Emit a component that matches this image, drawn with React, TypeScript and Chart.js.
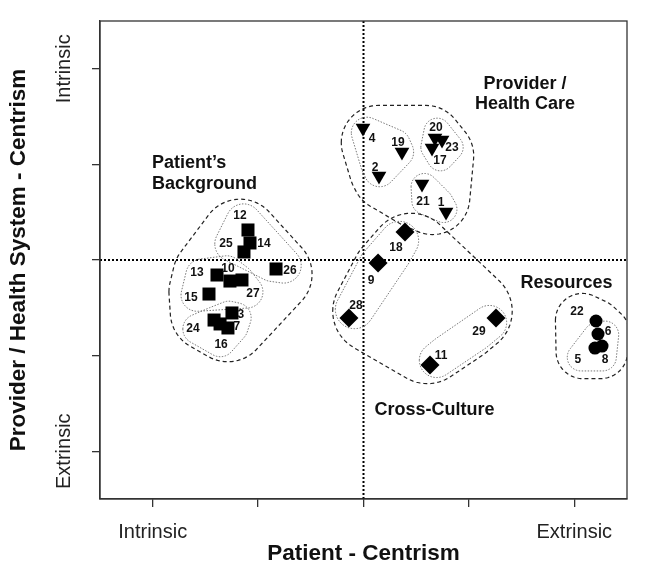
import { useEffect, useRef } from 'react';
import { Chart, registerables } from 'chart.js';

Chart.register(...registerables);

// ---------------- data ----------------
const squareIds = ['12', '14', '25', '26', '13', '10', '27', '15', '3', '24', '16', '7'];
const squareX = [-1.096, -1.077, -1.134, -0.83, -1.39, -1.267, -1.153, -1.466, -1.248, -1.418, -1.361, -1.286];
const squareY = [0.314, 0.178, 0.084, -0.094, -0.157, -0.22, -0.209, -0.356, -0.554, -0.628, -0.669, -0.711];

const triangleIds = ['4', '19', '2', '20', '23', '17', '21', '1'];
const triangleX = [-0.005, 0.365, 0.147, 0.678, 0.745, 0.65, 0.555, 0.783];
const triangleY = [1.381, 1.13, 0.879, 1.276, 1.255, 1.172, 0.795, 0.502];

const diamondIds = ['18', '9', '28', '29', '11'];
const diamondX = [0.394, 0.138, -0.138, 1.257, 0.631];
const diamondY = [0.293, -0.031, -0.607, -0.607, -1.098];

const circleIds = ['22', '6', '5', '8'];
const circleX = [2.206, 2.225, 2.196, 2.263];
const circleY = [-0.638, -0.774, -0.921, -0.9];

const xTickValues = [-2, -1, 0, 1, 2];
const xTickLabels = ['Intrinsic', '', '', '', 'Extrinsic'];
const yTickValues = [-2, -1, 0, 1, 2];
const yTickLabels = ['Extrinsic', '', '', '', 'Intrinsic'];

const xTitle = 'Patient - Centrism';
const yTitle = 'Provider / Health System - Centrism';

const clusterNames = ['Patient\u2019s\nBackground', 'Provider /\nHealth Care', 'Cross-Culture', 'Resources'];
const clusterMembers = [
  ['12', '14', '25', '26', '13', '10', '27', '15', '3', '24', '16', '7'],
  ['4', '19', '2', '20', '23', '17', '21', '1'],
  ['18', '9', '28', '29', '11'],
  ['22', '6', '5', '8'],
];
const subClusterMembers = [
  ['12', '14', '25', '26'],
  ['13', '10', '27', '15'],
  ['3', '24', '16', '7'],
  ['4', '19', '2'],
  ['20', '23', '17'],
  ['21', '1'],
  ['18', '9', '28'],
  ['29', '11'],
  ['6', '5', '8'],
];

// ---------------- styling / layout ----------------
const FONT = '"Liberation Sans", Arial, Helvetica, sans-serif';
const LABEL_OFFSETS: Record<string, [number, number]> = {
  '12': [-8, -14], '14': [14, 1], '25': [-18, -8], '26': [14, 2], '13': [-20, -2], '10': [-2, -12],
  '27': [11, 14], '15': [-18, 4], '3': [9, 2], '24': [-21, 9], '16': [1, 21], '7': [9, -1],
  '4': [9, 11], '19': [-4, -9], '2': [-4, -8], '20': [1, -10], '23': [10, 8], '17': [8, 13],
  '21': [1, 18], '1': [-5, -9],
  '18': [-9, 16], '9': [-7, 18], '28': [7, -12], '29': [-17, 14], '11': [11, -9],
  '22': [-19, -9], '6': [10, -2], '5': [-17, 12], '8': [3, 14],
};
// anchor (data coords) of first text line baseline
const CLUSTER_LABEL_POS = [
  { x: -2.007, y: 0.965, align: 'left', lh: 21.6 },
  { x: 1.532, y: 1.789, align: 'center', lh: 20.3 },
  { x: 0.674, y: -1.621, align: 'center', lh: 20 },
  { x: 1.926, y: -0.293, align: 'center', lh: 20 },
];
const OUTER = { shrink: 0.65, base: 18 };
const INNER = { shrink: 0.8, base: 10 };

type P = { x: number; y: number };

function convexHull(points: P[]): P[] {
  const pts = points.slice().sort((a, b) => (a.x === b.x ? a.y - b.y : a.x - b.x));
  const cross = (o: P, a: P, b: P) => (a.x - o.x) * (b.y - o.y) - (a.y - o.y) * (b.x - o.x);
  const lower: P[] = [];
  for (const p of pts) {
    while (lower.length >= 2 && cross(lower[lower.length - 2], lower[lower.length - 1], p) <= 0) lower.pop();
    lower.push(p);
  }
  const upper: P[] = [];
  for (let i = pts.length - 1; i >= 0; i--) {
    const p = pts[i];
    while (upper.length >= 2 && cross(upper[upper.length - 2], upper[upper.length - 1], p) <= 0) upper.pop();
    upper.push(p);
  }
  upper.pop();
  lower.pop();
  return lower.concat(upper);
}

// rounded blob: points pulled toward their centre, then padded by a circle
function blob(pts: P[], opt: { shrink: number; base: number }): P[] {
  const xs = pts.map((p) => p.x);
  const ys = pts.map((p) => p.y);
  const cx = (Math.min(...xs) + Math.max(...xs)) / 2;
  const cy = (Math.min(...ys) + Math.max(...ys)) / 2;
  const maxD = Math.max(...pts.map((p) => Math.hypot(p.x - cx, p.y - cy)));
  const r = opt.base + (1 - opt.shrink) * maxD * 0.9;
  const samples: P[] = [];
  const n = 72;
  for (const p of pts) {
    const sx = cx + (p.x - cx) * opt.shrink;
    const sy = cy + (p.y - cy) * opt.shrink;
    for (let k = 0; k < n; k++) {
      const a = (k / n) * Math.PI * 2;
      samples.push({ x: sx + r * Math.cos(a), y: sy + r * Math.sin(a) });
    }
  }
  return convexHull(samples);
}

function pixelMap(chart: any) {
  const xs = chart.scales.x;
  const ys = chart.scales.y;
  const map: Record<string, P> = {};
  const add = (ids: string[], X: number[], Y: number[]) => {
    ids.forEach((id, i) => {
      map[id] = { x: xs.getPixelForValue(X[i]), y: ys.getPixelForValue(Y[i]) };
    });
  };
  add(squareIds, squareX, squareY);
  add(triangleIds, triangleX, triangleY);
  add(diamondIds, diamondX, diamondY);
  add(circleIds, circleX, circleY);
  return map;
}

function groupPoints(ids: string[], map: Record<string, P>): P[] {
  const out: P[] = [];
  ids.forEach((id) => {
    const p = map[id];
    const o = LABEL_OFFSETS[id] || [0, 0];
    out.push(p);
    out.push({ x: p.x + o[0], y: p.y + o[1] });
  });
  return out;
}

function strokePoly(ctx: CanvasRenderingContext2D, poly: P[]) {
  ctx.beginPath();
  poly.forEach((p, i) => (i === 0 ? ctx.moveTo(p.x, p.y) : ctx.lineTo(p.x, p.y)));
  ctx.closePath();
  ctx.stroke();
}

const overlayPlugin = {
  id: 'overlay',
  beforeDatasetsDraw(chart: any) {
    const { ctx, chartArea: a, scales } = chart;
    const map = pixelMap(chart);
    ctx.save();
    ctx.beginPath();
    ctx.rect(a.left, a.top, a.right - a.left, a.bottom - a.top);
    ctx.clip();
    // crosshair dotted lines
    const x0 = scales.x.getPixelForValue(0);
    const y0 = scales.y.getPixelForValue(0);
    ctx.strokeStyle = '#000';
    ctx.lineWidth = 2;
    ctx.setLineDash([2, 2]);
    ctx.beginPath();
    ctx.moveTo(x0, a.top);
    ctx.lineTo(x0, a.bottom);
    ctx.stroke();
    ctx.beginPath();
    ctx.moveTo(a.left, y0);
    ctx.lineTo(a.right, y0);
    ctx.stroke();
    // sub clusters (dotted)
    ctx.strokeStyle = '#777';
    ctx.lineWidth = 1;
    ctx.setLineDash([1.5, 1.5]);
    subClusterMembers.forEach((ids) => strokePoly(ctx, blob(groupPoints(ids, map), INNER)));
    // clusters (dashed)
    ctx.strokeStyle = '#222';
    ctx.lineWidth = 1.2;
    ctx.setLineDash([4, 3]);
    clusterMembers.forEach((ids) => strokePoly(ctx, blob(groupPoints(ids, map), OUTER)));
    ctx.restore();
  },
  afterDatasetsDraw(chart: any) {
    const { ctx, scales } = chart;
    const map = pixelMap(chart);
    ctx.save();
    ctx.fillStyle = '#111';
    ctx.font = `bold 12px ${FONT}`;
    ctx.textAlign = 'center';
    ctx.textBaseline = 'middle';
    Object.keys(map).forEach((id) => {
      const p = map[id];
      const o = LABEL_OFFSETS[id] || [0, 0];
      ctx.fillText(id, p.x + o[0], p.y + o[1]);
    });
    ctx.font = `bold 18px ${FONT}`;
    ctx.textBaseline = 'alphabetic';
    clusterNames.forEach((name, i) => {
      const pos = CLUSTER_LABEL_POS[i];
      const px = scales.x.getPixelForValue(pos.x);
      const py = scales.y.getPixelForValue(pos.y);
      ctx.textAlign = pos.align as CanvasTextAlign;
      name.split('\n').forEach((line, k) => ctx.fillText(line, px, py + k * pos.lh));
    });
    ctx.restore();
  },
  afterDraw(chart: any) {
    const { ctx, chartArea: a, scales, height } = chart;
    ctx.save();
    // frame
    ctx.strokeStyle = '#333';
    ctx.lineWidth = 1.3;
    ctx.setLineDash([]);
    ctx.strokeRect(a.left, a.top, a.right - a.left, a.bottom - a.top);
    // y tick labels (rotated)
    ctx.fillStyle = '#222';
    ctx.font = `20px ${FONT}`;
    ctx.textAlign = 'center';
    ctx.textBaseline = 'alphabetic';
    yTickValues.forEach((v, i) => {
      const lbl = yTickLabels[i];
      if (!lbl) return;
      const py = scales.y.getPixelForValue(v);
      ctx.save();
      ctx.translate(62, py);
      ctx.rotate(-Math.PI / 2);
      ctx.fillText(lbl, 0, 0);
      ctx.restore();
    });
    // axis titles
    ctx.fillStyle = '#111';
    ctx.font = `bold 22.5px ${FONT}`;
    ctx.save();
    ctx.translate(17, (a.top + a.bottom) / 2);
    ctx.rotate(-Math.PI / 2);
    ctx.fillText(yTitle, 0, 0);
    ctx.restore();
    ctx.fillText(xTitle, (a.left + a.right) / 2, height - 1);
    ctx.restore();
  },
};

export default function App() {
  const ref = useRef<HTMLCanvasElement | null>(null);
  useEffect(() => {
    if (!ref.current) return;
    const toPts = (X: number[], Y: number[]) => X.map((x, i) => ({ x, y: Y[i] }));
    const chart = new Chart(ref.current, {
      type: 'scatter',
      data: {
        datasets: [
          { data: toPts(squareX, squareY), pointStyle: 'rect', pointRadius: 9.2, backgroundColor: '#000', borderColor: '#000', borderWidth: 0 },
          { data: toPts(triangleX, triangleY), pointStyle: 'triangle', rotation: 180, pointRadius: 8.5, backgroundColor: '#000', borderColor: '#000', borderWidth: 0 },
          { data: toPts(diamondX, diamondY), pointStyle: 'rectRot', pointRadius: 9.5, backgroundColor: '#000', borderColor: '#000', borderWidth: 0 },
          { data: toPts(circleX, circleY), pointStyle: 'circle', pointRadius: 6.5, backgroundColor: '#000', borderColor: '#000', borderWidth: 0 },
        ] as any,
      },
      options: {
        animation: false,
        responsive: false,
        events: [],
        layout: { padding: { top: 13, right: 12, left: 0, bottom: 0 } },
        plugins: { legend: { display: false }, tooltip: { enabled: false } },
        scales: {
          x: {
            type: 'linear',
            min: -2.5,
            max: 2.5,
            afterBuildTicks: (s: any) => {
              s.ticks = xTickValues.map((v) => ({ value: v }));
            },
            afterFit: (s: any) => {
              s.height = 62;
            },
            ticks: {
              autoSkip: false,
              maxRotation: 0,
              padding: 13,
              color: '#222',
              font: { family: FONT, size: 20 },
              callback: (v: any) => {
                const i = xTickValues.indexOf(Number(v));
                return i >= 0 ? xTickLabels[i] : '';
              },
            },
            grid: { drawOnChartArea: false, drawTicks: true, tickLength: 8, color: '#333', lineWidth: 1.3 },
            border: { display: true, color: '#333', width: 1.3 },
          },
          y: {
            type: 'linear',
            min: -2.5,
            max: 2.5,
            afterBuildTicks: (s: any) => {
              s.ticks = yTickValues.map((v) => ({ value: v }));
            },
            afterFit: (s: any) => {
              s.width = 92;
            },
            ticks: { display: false },
            grid: { drawOnChartArea: false, drawTicks: true, tickLength: 8, color: '#333', lineWidth: 1.3 },
            border: { display: true, color: '#333', width: 1.3 },
          },
        },
      } as any,
      plugins: [overlayPlugin],
    });
    return () => chart.destroy();
  }, []);
  return <canvas ref={ref} width={631} height={553} style={{ display: 'block' }} />;
}
